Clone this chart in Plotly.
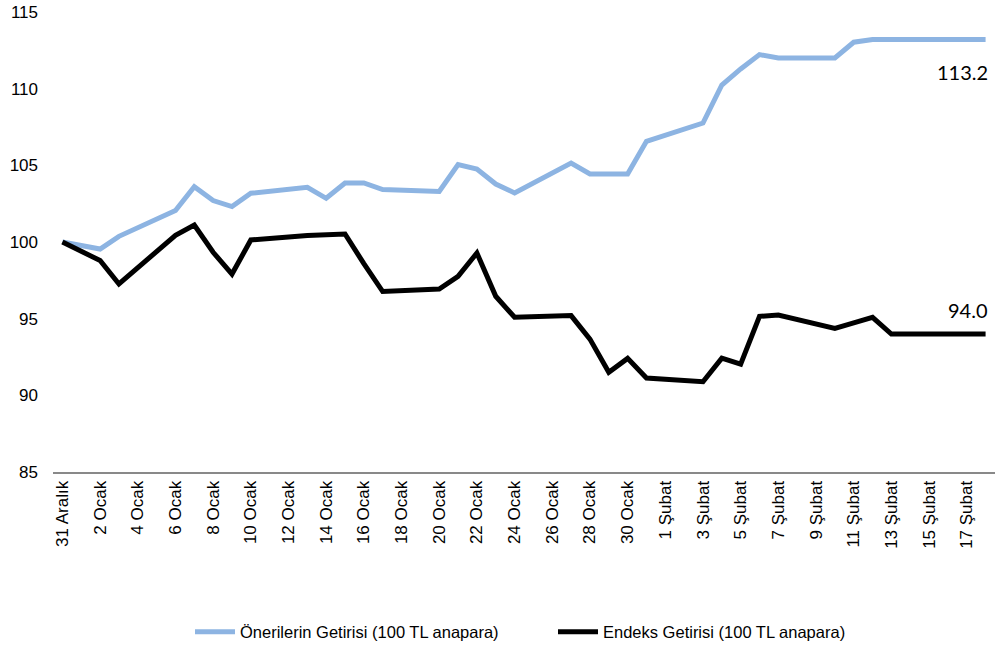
import plotly.graph_objects as go
import pandas as pd

# Trading days (weekends / holidays are bridged by straight lines on the date axis)
dates = [
    "2019-12-31", "2020-01-02", "2020-01-03",
    "2020-01-06", "2020-01-07", "2020-01-08", "2020-01-09", "2020-01-10",
    "2020-01-13", "2020-01-14", "2020-01-15", "2020-01-16", "2020-01-17",
    "2020-01-20", "2020-01-21", "2020-01-22", "2020-01-23", "2020-01-24",
    "2020-01-27", "2020-01-28", "2020-01-29", "2020-01-30", "2020-01-31",
    "2020-02-03", "2020-02-04", "2020-02-05", "2020-02-06", "2020-02-07",
    "2020-02-10", "2020-02-11", "2020-02-12", "2020-02-13", "2020-02-14",
    "2020-02-17", "2020-02-18",
]

oneriler = [
    100.00, 99.54, 100.37,
    102.05, 103.61, 102.70, 102.31, 103.18,
    103.57, 102.85, 103.85, 103.85, 103.42,
    103.29, 105.05, 104.76, 103.78, 103.20,
    105.15, 104.44, 104.44, 104.44, 106.57,
    107.76, 110.24, 111.29, 112.22, 112.00,
    112.00, 113.03, 113.20, 113.20, 113.20,
    113.20, 113.20,
]

endeks = [
    100.00, 98.79, 97.26,
    100.44, 101.11, 99.33, 97.91, 100.13,
    100.42, 100.47, 100.52, 98.59, 96.77,
    96.93, 97.76, 99.28, 96.46, 95.09,
    95.20, 93.67, 91.50, 92.41, 91.13,
    90.89, 92.43, 92.04, 95.15, 95.24,
    94.37, 94.73, 95.09, 94.00, 94.00,
    94.00, 94.00,
]

tick_labels = [
    "31 Aralık", "2 Ocak", "4 Ocak", "6 Ocak", "8 Ocak", "10 Ocak", "12 Ocak",
    "14 Ocak", "16 Ocak", "18 Ocak", "20 Ocak", "22 Ocak", "24 Ocak", "26 Ocak",
    "28 Ocak", "30 Ocak", "1 Şubat", "3 Şubat", "5 Şubat", "7 Şubat", "9 Şubat",
    "11 Şubat", "13 Şubat", "15 Şubat", "17 Şubat",
]
tick_dates = [d.strftime("%Y-%m-%d") for d in pd.date_range("2019-12-31", periods=len(tick_labels), freq="2D")]

series_names = ["Önerilerin Getirisi (100 TL anapara)", "Endeks Getirisi (100 TL anapara)"]
colors = ["#8DB4E2", "#000000"]

FONT = "Liberation Sans, Arial, sans-serif"
LABEL_FONT = "Lato, Carlito, Calibri, sans-serif"

fig = go.Figure()
fig.add_trace(go.Scatter(x=dates, y=oneriler, mode="lines", name=series_names[0],
                         line=dict(color=colors[0], width=5)))
fig.add_trace(go.Scatter(x=dates, y=endeks, mode="lines", name=series_names[1],
                         line=dict(color=colors[1], width=5)))

fig.add_annotation(x=dates[-1], y=oneriler[-1], text=f"{oneriler[-1]:.1f}", showarrow=False,
                   xanchor="right", yanchor="middle", yshift=-32, xshift=4,
                   font=dict(family=LABEL_FONT, size=20, color="#000000"))
fig.add_annotation(x=dates[-1], y=endeks[-1], text=f"{endeks[-1]:.1f}", showarrow=False,
                   xanchor="right", yanchor="middle", yshift=24, xshift=4,
                   font=dict(family=LABEL_FONT, size=20, color="#000000"))

fig.update_layout(
    width=999, height=646,
    margin=dict(l=53, r=4, t=12, b=174, autoexpand=False),
    paper_bgcolor="white", plot_bgcolor="white",
    font=dict(family=FONT, size=17, color="#000000"),
    showlegend=True,
    legend=dict(orientation="h", xref="container", x=190 / 999, xanchor="left",
                yref="container", y=(646 - 632) / 646, yanchor="middle",
                font=dict(family=FONT, size=16.5), entrywidth=308, entrywidthmode="pixels",
                itemwidth=40),
    xaxis=dict(type="date", range=["2019-12-30 12:00", "2020-02-18 12:00"],
               tickmode="array", tickvals=tick_dates, ticktext=tick_labels, tickangle=-90,
               showgrid=False, zeroline=False, showline=True, linecolor="#898989", linewidth=2,
               ticks="", automargin=False, tickfont=dict(family=FONT, size=17)),
    yaxis=dict(range=[85, 115], dtick=5, tick0=85, showgrid=False, zeroline=False,
               showline=False, ticks="", ticklabelstandoff=14, automargin=False,
               tickfont=dict(family=FONT, size=17)),
)

fig.write_html("out.html", config={"displayModeBar": False},
               post_script="document.body.style.margin='0px';document.body.style.padding='0px';")
